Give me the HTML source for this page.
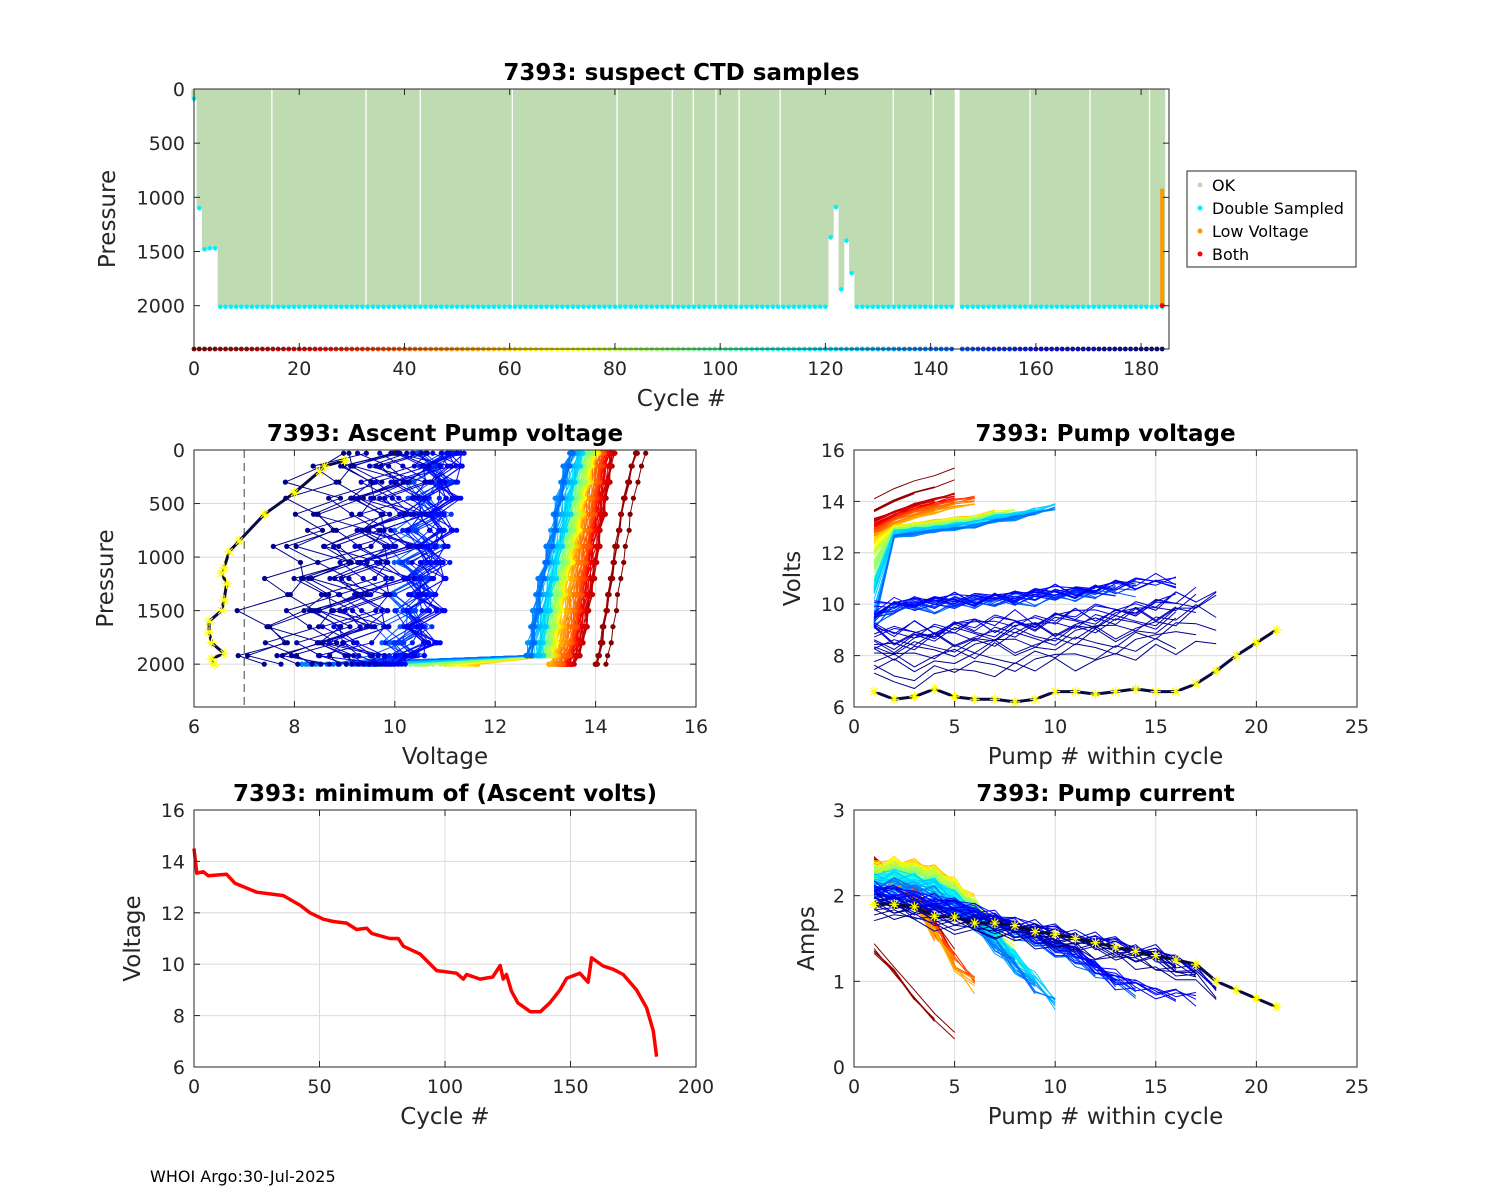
<!DOCTYPE html>
<html><head><meta charset="utf-8"><style>
html,body{margin:0;padding:0;background:#fff}
svg{display:block;font-family:"DejaVu Sans","Liberation Sans",sans-serif}
</style></head><body>
<svg id="chart" width="1500" height="1200" viewBox="0 0 1500 1200" xmlns="http://www.w3.org/2000/svg">
<rect x="0" y="0" width="1500" height="1200" fill="#fff"/>
<text x="150" y="1182" font-size="16" fill="#000">WHOI Argo:30-Jul-2025</text>
</svg>
<script>
// ---------- data ----------
const minCycles=[0,1.1,3.7,5.7,13,16.3,25,35.6,42.2,46.2,51.5,55.5,60.8,64.8,68.8,70.8,78,81.4,83.4,90,96.7,104.6,107.3,108.6,114,119,122,123.2,124.5,126.5,129,134,138,141.8,145.8,148.5,153.7,157,158.4,163,167,171,176.3,180.3,183,184.3];
const minVolts=[14.5,13.54,13.6,13.44,13.5,13.15,12.8,12.67,12.3,12.0,11.75,11.66,11.6,11.35,11.4,11.2,11.0,11.0,10.7,10.4,9.75,9.65,9.42,9.6,9.42,9.5,9.95,9.42,9.6,8.95,8.5,8.15,8.15,8.5,9.0,9.45,9.65,9.3,10.25,9.93,9.8,9.6,9.0,8.3,7.4,6.4];
const excCycles=[0,1,2,3,4,121,122,123,124,125];
const excMax=[90,1100,1480,1470,1470,1370,1090,1850,1400,1700];
const missingCycles=[145];
const gapCycles=[14.8,32.7,43,60.5,80.4,90.9,94.9,99.2,103.6,111.4,132.9,140.5,158.9,170.3,181.6];
const pumpsCycle=[0,6,30,55,75,95,115,143,160,184];
const pumpsCount=[5,5,6,7,8,9,10,14,18,21];
const jit=[0.3,-0.5,0.6,-0.2,0.8,-0.7,0.1,0.5,-0.4,0.9,-0.6,0.2,-0.3,0.7,-0.1,-0.8,0.4,-0.5,0.6,0.0,-0.9,0.3,0.5];
const grpStart=[0,6,56,143,166];
const grpEnd=[5,55,142,165,183];
// pump voltage shapes
const pvShape0=[13.6,14.0,14.3,14.5,14.8];
const pvShape1=[12.8,13.3,13.6,13.8,14.0,14.1,14.2,14.3];
const pvShape2=[11.5,12.9,13.0,13.1,13.2,13.3,13.5,13.6,13.8,14.0];
const pvShape3=[9.5,9.9,10.0,10.0,10.1,10.1,10.2,10.2,10.3,10.4,10.4,10.5,10.6,10.7,10.8,10.8];
const pvShape4=[8.6,8.5,8.6,8.7,8.8,8.8,8.9,9.0,9.0,9.1,9.2,9.3,9.4,9.5,9.6,9.8,10.0,10.1,10.0];
const pvRef=[13.5,12.5,10.5,9.5,9.3];
const pvScaleFirst=[0.5,0.5,1.0,0.6,0.8];
const pvScaleRest=[0.5,0.3,0.12,0.2,0.8];
const pvJit=[0,0.05,0.08,0.3,0.4];
const lastVolts=[6.6,6.3,6.4,6.7,6.4,6.3,6.3,6.2,6.3,6.6,6.6,6.5,6.6,6.7,6.6,6.6,6.9,7.4,8.0,8.5,9.0];
// pump current shapes
const pcShape0=[1.35,1.1,0.8,0.55,0.3];
const pcShape1=[2.3,2.2,2.0,1.6,1.25,1.0,0.95];
const pcShape2=[2.25,2.3,2.25,2.2,2.05,1.85,1.6,1.35,1.1,0.9];
const pcShape3=[2.05,2.0,1.95,1.9,1.85,1.8,1.7,1.6,1.5,1.4,1.3,1.15,1.0,0.9,0.85,0.8,0.75];
const pcShape4=[1.95,1.9,1.85,1.8,1.75,1.7,1.68,1.65,1.6,1.55,1.5,1.45,1.4,1.35,1.3,1.2,1.1,0.95,0.8,0.75];
const pcJit=[0.03,0.1,0.1,0.1,0.1];
const lastAmps=[1.9,1.9,1.87,1.76,1.75,1.68,1.68,1.65,1.58,1.55,1.5,1.45,1.4,1.35,1.3,1.25,1.2,1.0,0.9,0.8,0.7];
// ascent profiles
const ascP=[2000,1920,1800,1650,1500,1350,1200,1050,900,750,600,450,300,150,30];
const asShape0=[14.0,14.05,14.1,14.15,14.2,14.25,14.3,14.35,14.4,14.45,14.5,14.55,14.65,14.7,14.8];
const asShape1=[13.3,13.4,13.5,13.55,13.6,13.65,13.7,13.75,13.8,13.85,13.9,13.95,14.0,14.05,14.1];
const asShape2=[0,13.0,13.05,13.1,13.15,13.2,13.25,13.35,13.4,13.5,13.55,13.6,13.7,13.75,13.85];
const asShape3=[0,10.2,10.3,10.3,10.4,10.4,10.5,10.5,10.6,10.6,10.7,10.7,10.8,10.8,10.9];
const asShape4=[0,8.8,8.9,9.0,9.1,9.2,9.3,9.4,9.5,9.6,9.7,9.8,9.9,10.0,10.1];
const asRef=[13.5,12.5,10.5,9.5,9.3];
const asScale=[0.2,0.25,0.15,0.4,0.8];
const asJit=[0.02,0.05,0.06,0.45,0.8];
const asFirstIsMin=[false,false,true,true,true];
const lastAscP=[100,150,200,400,600,850,950,1100,1150,1250,1400,1500,1600,1700,1800,1900,1950,2000];
const lastAscV=[9.0,8.6,8.5,8.0,7.4,6.9,6.7,6.6,6.55,6.65,6.6,6.55,6.3,6.3,6.35,6.6,6.35,6.4];

// ---------- helpers ----------
const NS='http://www.w3.org/2000/svg';
const svg=document.getElementById('chart');
function mk(tag,attrs,parent){const e=document.createElementNS(NS,tag);for(const k in attrs)e.setAttribute(k,attrs[k]);(parent||svg).appendChild(e);return e;}
function named(e,name,inter){
  
  
  return e;}
function jet(t){const f=x=>Math.max(0,Math.min(1,x));return 'rgb('+Math.round(f(1.5-Math.abs(4*t-3))*255)+','+Math.round(f(1.5-Math.abs(4*t-2))*255)+','+Math.round(f(1.5-Math.abs(4*t-1))*255)+')';}
function cyc(c){return jet(1-c/184);}
function interp(xs,ys,x){if(x<=xs[0])return ys[0];for(let i=1;i<xs.length;i++){if(x<=xs[i]){const t=(x-xs[i-1])/(xs[i]-xs[i-1]);return ys[i-1]+t*(ys[i]-ys[i-1]);}}return ys[ys.length-1];}
function mv(c){return interp(minCycles,minVolts,c);}
function npumps(c){let n=pumpsCount[0];for(let i=0;i<pumpsCycle.length;i++){if(c>=pumpsCycle[i])n=pumpsCount[i];}return n;}
function group(c){for(let g=0;g<5;g++){if(c>=grpStart[g]&&c<=grpEnd[g])return g;}return -1;}

function axes(cfg){
  const g=mk('g',{},svg);
  named(g,cfg.name,false);
  const sx=v=>cfg.x0+(v-cfg.xmin)/(cfg.xmax-cfg.xmin)*(cfg.x1-cfg.x0);
  const sy=cfg.yrev?(v=>cfg.y0+(v-cfg.ymin)/(cfg.ymax-cfg.ymin)*(cfg.y1-cfg.y0)):(v=>cfg.y1-(v-cfg.ymin)/(cfg.ymax-cfg.ymin)*(cfg.y1-cfg.y0));
  const gridG=mk('g',{},g);
  named(gridG,'grid',false);
  if(cfg.grid){
    cfg.xt.forEach(v=>{const l=mk('line',{x1:sx(v),x2:sx(v),y1:cfg.y0,y2:cfg.y1,stroke:'#dcdcdc','stroke-width':1},gridG);named(l,'grid-line-x',false);});
    cfg.yt.forEach(v=>{const l=mk('line',{x1:cfg.x0,x2:cfg.x1,y1:sy(v),y2:sy(v),stroke:'#dcdcdc','stroke-width':1},gridG);named(l,'grid-line-y',false);});
  }
  const plot=mk('g',{},g);
  named(plot,'plot-area',false);
  const frame=mk('g',{},g);
  named(frame,'axes-frame',false);
  const fr=mk('rect',{x:cfg.x0,y:cfg.y0,width:cfg.x1-cfg.x0,height:cfg.y1-cfg.y0,fill:'none',stroke:'#262626','stroke-width':1},frame);
  named(fr,'axes-box',false);
  cfg.xt.forEach(v=>{
    const t1=mk('line',{x1:sx(v),x2:sx(v),y1:cfg.y1,y2:cfg.y1-6,stroke:'#262626'},frame);named(t1,'x-tick',false);
    const t2=mk('line',{x1:sx(v),x2:sx(v),y1:cfg.y0,y2:cfg.y0+6,stroke:'#262626'},frame);named(t2,'x-tick-top',false);
    const tx=mk('text',{x:sx(v),y:cfg.y1+26,'text-anchor':'middle','font-size':19,fill:'#262626'},frame);tx.textContent=v;named(tx,'x-tick-label',false);
  });
  cfg.yt.forEach(v=>{
    const t1=mk('line',{x1:cfg.x0,x2:cfg.x0+6,y1:sy(v),y2:sy(v),stroke:'#262626'},frame);named(t1,'y-tick',false);
    const t2=mk('line',{x1:cfg.x1,x2:cfg.x1-6,y1:sy(v),y2:sy(v),stroke:'#262626'},frame);named(t2,'y-tick-right',false);
    const tx=mk('text',{x:cfg.x0-9,y:sy(v)+7,'text-anchor':'end','font-size':19,fill:'#262626'},frame);tx.textContent=v;named(tx,'y-tick-label',false);
  });
  const tt=mk('text',{x:(cfg.x0+cfg.x1)/2,y:cfg.y0-9,'text-anchor':'middle','font-size':23,'font-weight':'bold',fill:'#000'},frame);tt.textContent=cfg.title;named(tt,'chart-title',false);
  const xl=mk('text',{x:(cfg.x0+cfg.x1)/2,y:cfg.y1+57,'text-anchor':'middle','font-size':23,fill:'#262626'},frame);xl.textContent=cfg.xlabel;named(xl,'x-axis-title',false);
  const ylx=cfg.x0-cfg.ylOff;const yly=(cfg.y0+cfg.y1)/2;
  const yl=mk('text',{x:ylx,y:yly,'text-anchor':'middle','font-size':23,fill:'#262626',transform:'rotate(-90 '+ylx+' '+yly+')'},frame);yl.textContent=cfg.ylabel;named(yl,'y-axis-title',false);
  return {sx,sy,plot,cfg};
}
function poly(parent,pts,color,w,name){const p=mk('polyline',{points:pts.map(p=>p[0].toFixed(1)+','+p[1].toFixed(1)).join(' '),fill:'none',stroke:color,'stroke-width':w,'stroke-linejoin':'round'},parent);named(p,name,false);return p;}
function star(parent,x,y,r,color,name){const p=mk('path',{d:'M'+(x-r)+' '+y+'H'+(x+r)+'M'+x+' '+(y-r)+'V'+(y+r)+'M'+(x-r*0.7)+' '+(y-r*0.7)+'L'+(x+r*0.7)+' '+(y+r*0.7)+'M'+(x-r*0.7)+' '+(y+r*0.7)+'L'+(x+r*0.7)+' '+(y-r*0.7),stroke:color,'stroke-width':1.2,fill:'none'},parent);named(p,name,false);}

// ---------- top panel ----------
(function(){
  const A=axes({name:'suspect-ctd-panel',x0:194,x1:1169,y0:89,y1:349,xmin:0,xmax:185.3,ymin:0,ymax:2400,yrev:true,xt:[0,20,40,60,80,100,120,140,160,180],yt:[0,500,1000,1500,2000],grid:false,title:'7393: suspect CTD samples',xlabel:'Cycle #',ylabel:'Pressure',ylOff:79});
  const w=A.sx(1)-A.sx(0);
  for(let c=0;c<=184;c++){
    if(missingCycles.indexOf(c)>=0)continue;
    const k=excCycles.indexOf(c);
    const mx=k>=0?excMax[k]:2010;
    const r=mk('rect',{x:A.sx(c)-w/2,y:A.sy(0),width:w+0.4,height:A.sy(mx)-A.sy(0),fill:'#bedbb2'},A.plot);named(r,'ok-samples-bar',false);
  }
  gapCycles.forEach(c=>{const l=mk('line',{x1:A.sx(c),x2:A.sx(c),y1:A.sy(0),y2:A.sy(2020),stroke:'#fff','stroke-width':1.3},A.plot);named(l,'sample-gap',false);});
  const o=mk('rect',{x:A.sx(184)-2,y:A.sy(920),width:4,height:A.sy(2000)-A.sy(920),fill:'#ff9900'},A.plot);named(o,'low-voltage-bar',false);
  for(let c=0;c<=184;c++){
    if(missingCycles.indexOf(c)>=0)continue;
    const k=excCycles.indexOf(c);
    const mx=k>=0?excMax[k]:2010;
    const d=mk('circle',{cx:A.sx(c),cy:A.sy(mx),r:2.3,fill:'#00f0ff'},A.plot);named(d,'double-sampled-point',false);
    const b=mk('circle',{cx:A.sx(c),cy:A.sy(2400),r:2.4,fill:cyc(c)},A.plot);named(b,'cycle-color-marker',false);
  }
  const rd=mk('circle',{cx:A.sx(184),cy:A.sy(2000),r:2.5,fill:'#ff0000'},A.plot);named(rd,'both-point',false);
  const lg=mk('g',{},svg);named(lg,'legend',false);
  const lb=mk('rect',{x:1187,y:171,width:169,height:96,fill:'#fff',stroke:'#262626'},lg);named(lb,'legend-box',false);
  const items=[['OK','#bedbb2'],['Double Sampled','#00f0ff'],['Low Voltage','#ff9900'],['Both','#ff0000']];
  items.forEach((it,i)=>{const y=185+i*23;
    const d=mk('circle',{cx:1200,cy:y,r:2.5,fill:it[1]},lg);named(d,'legend-marker',false);
    const t=mk('text',{x:1212,y:y+6,'font-size':16,fill:'#000'},lg);t.textContent=it[0];named(t,'legend-entry',false);});
})();

// ---------- ascent pump voltage ----------
(function(){
  const A=axes({name:'ascent-pump-voltage-panel',x0:194,x1:696,y0:450,y1:707,xmin:6,xmax:16,ymin:0,ymax:2400,yrev:true,xt:[6,8,10,12,14,16],yt:[0,500,1000,1500,2000],grid:true,title:'7393: Ascent Pump voltage',xlabel:'Voltage',ylabel:'Pressure',ylOff:81});
  const dl=mk('line',{x1:A.sx(7),x2:A.sx(7),y1:450,y2:707,stroke:'#444','stroke-width':1,'stroke-dasharray':'8,5'},A.plot);named(dl,'threshold-line',false);
  const shapes=[asShape0,asShape1,asShape2,asShape3,asShape4];
  for(let c=0;c<=183;c++){
    const g=group(c);if(g<0)continue;
    const m=mv(c);const pts=[];
    for(let k=0;k<ascP.length;k++){
      let v;
      if(k===0&&asFirstIsMin[g])v=m;
      else v=shapes[g][k]+(m-asRef[g])*asScale[g]+jit[(c*7+k)%jit.length]*asJit[g];
      pts.push([A.sx(v),A.sy(ascP[k])]);
    }
    const col=cyc(c);
    poly(A.plot,pts,col,1,'ascent-profile-line');
    pts.forEach(p=>{const d=mk('circle',{cx:p[0],cy:p[1],r:2.6,fill:col},A.plot);named(d,'ascent-profile-point',false);});
  }
  const lp=lastAscP.map((p,i)=>[A.sx(lastAscV[i]),A.sy(p)]);
  poly(A.plot,lp,'#0a0a40',3,'last-cycle-profile');
  lp.forEach(p=>star(A.plot,p[0],p[1],5,'#ffff00','last-cycle-marker'));
})();

// ---------- pump voltage ----------
(function(){
  const A=axes({name:'pump-voltage-panel',x0:854,x1:1357,y0:450,y1:707,xmin:0,xmax:25,ymin:6,ymax:16,yrev:false,xt:[0,5,10,15,20,25],yt:[6,8,10,12,14,16],grid:true,title:'7393: Pump voltage',xlabel:'Pump # within cycle',ylabel:'Volts',ylOff:54});
  const shapes=[pvShape0,pvShape1,pvShape2,pvShape3,pvShape4];
  for(let c=0;c<=183;c++){
    const g=group(c);if(g<0)continue;
    const m=mv(c);const sh=shapes[g];
    const n=Math.min(sh.length,Math.max(3,npumps(c)-(c%3)));
    const pts=[];
    for(let k=0;k<n;k++){const v=sh[k]+(m-pvRef[g])*(k===0?pvScaleFirst[g]:pvScaleRest[g])+jit[(c*5+k)%jit.length]*pvJit[g];pts.push([A.sx(k+1),A.sy(v)]);}
    poly(A.plot,pts,cyc(c),1,'pump-voltage-line');
  }
  const lp=lastVolts.map((v,i)=>[A.sx(i+1),A.sy(v)]);
  poly(A.plot,lp,'#0a0a40',3,'last-cycle-voltage');
  lp.forEach(p=>star(A.plot,p[0],p[1],5,'#ffff00','last-cycle-marker'));
})();

// ---------- minimum volts ----------
(function(){
  const A=axes({name:'minimum-ascent-volts-panel',x0:194,x1:696,y0:810,y1:1067,xmin:0,xmax:200,ymin:6,ymax:16,yrev:false,xt:[0,50,100,150,200],yt:[6,8,10,12,14,16],grid:true,title:'7393: minimum of (Ascent volts)',xlabel:'Cycle #',ylabel:'Voltage',ylOff:54});
  poly(A.plot,minCycles.map((c,i)=>[A.sx(c),A.sy(minVolts[i])]),'#ff0000',3.5,'minimum-volts-line');
})();

// ---------- pump current ----------
(function(){
  const A=axes({name:'pump-current-panel',x0:854,x1:1357,y0:810,y1:1067,xmin:0,xmax:25,ymin:0,ymax:3,yrev:false,xt:[0,5,10,15,20,25],yt:[0,1,2,3],grid:true,title:'7393: Pump current',xlabel:'Pump # within cycle',ylabel:'Amps',ylOff:40});
  const shapes=[pcShape0,pcShape1,pcShape2,pcShape3,pcShape4];
  for(let c=0;c<=183;c++){
    const g=group(c);if(g<0)continue;
    const m=mv(c);const sh=shapes[g];
    const n=Math.min(sh.length,Math.max(3,npumps(c)-(c%3)));
    const pts=[];
    for(let k=0;k<n;k++){const v=sh[k]+(m-pvRef[g])*0.08+jit[(c*3+k)%jit.length]*pcJit[g];pts.push([A.sx(k+1),A.sy(v)]);}
    poly(A.plot,pts,cyc(c),1,'pump-current-line');
  }
  const lp=lastAmps.map((v,i)=>[A.sx(i+1),A.sy(v)]);
  poly(A.plot,lp,'#0a0a40',3,'last-cycle-current');
  lp.forEach(p=>star(A.plot,p[0],p[1],5,'#ffff00','last-cycle-marker'));
})();
</script>
</body></html>
